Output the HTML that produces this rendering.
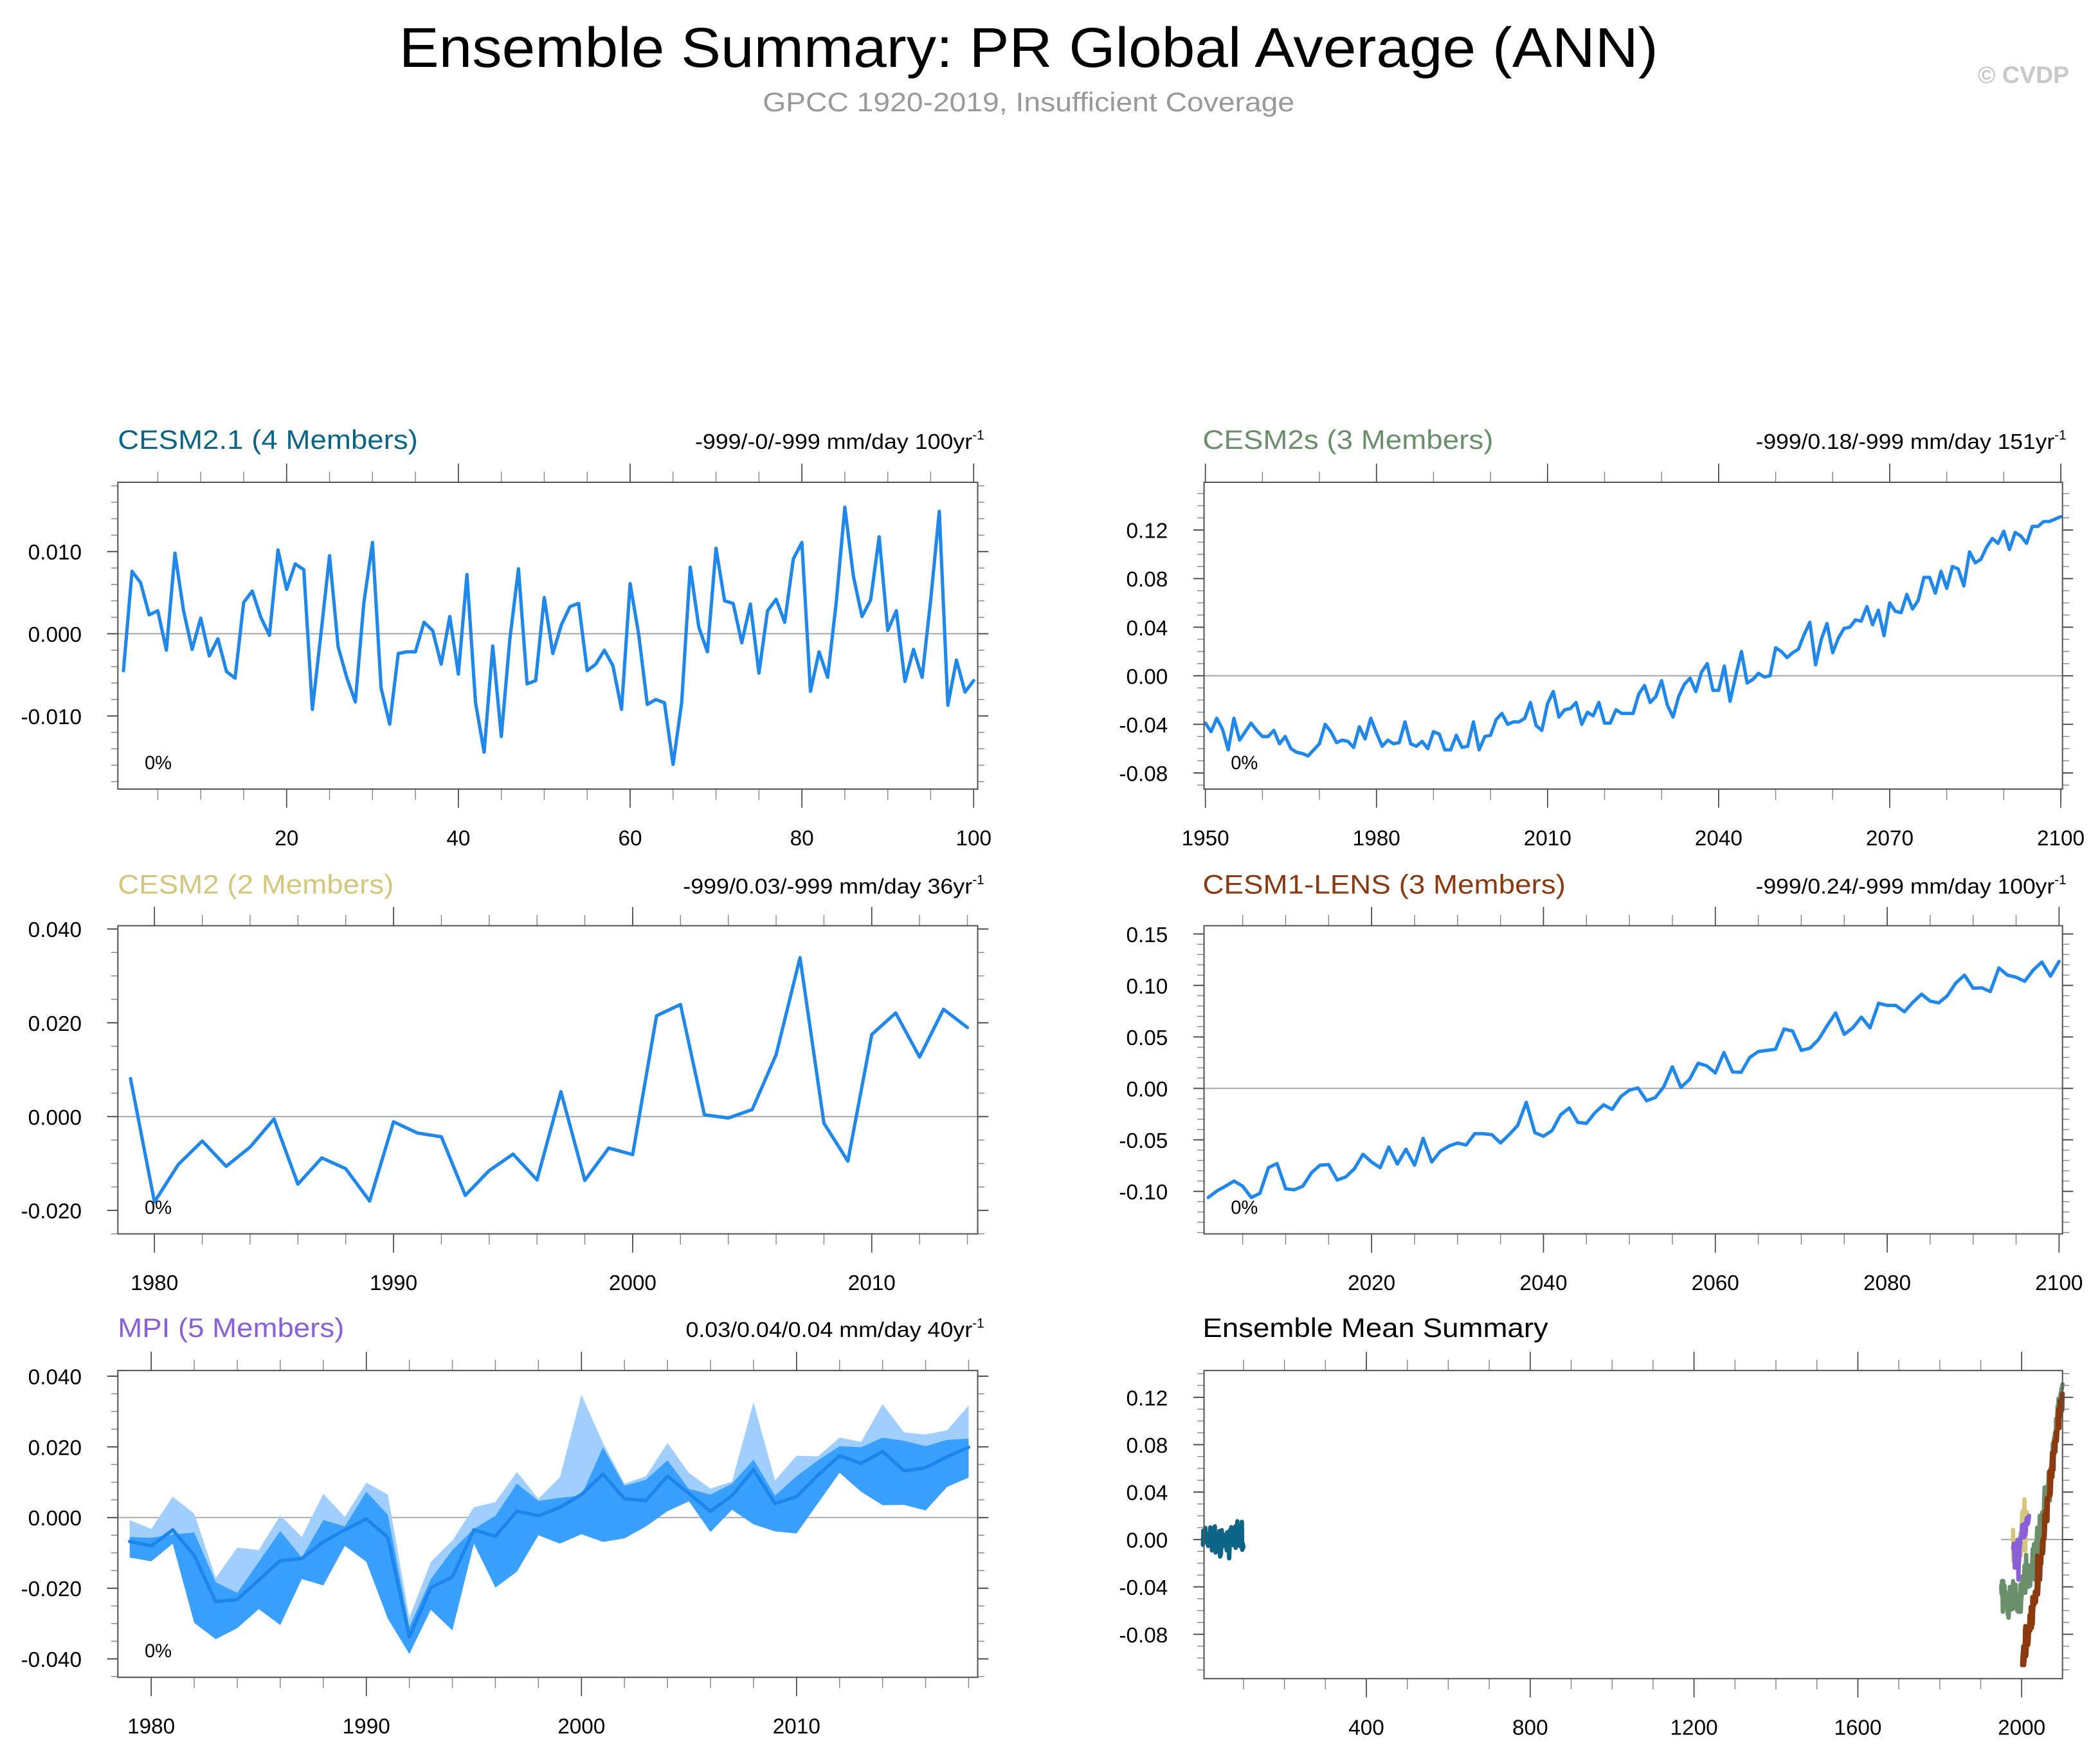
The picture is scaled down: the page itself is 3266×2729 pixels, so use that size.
<!DOCTYPE html>
<html>
<head>
<meta charset="utf-8">
<style>
html,body{margin:0;padding:0;background:#fff;}
svg{display:block;}
text{font-family:"Liberation Sans",sans-serif;}
</style>
</head>
<body>
<svg id="chart" xmlns="http://www.w3.org/2000/svg" width="3266" height="2729" viewBox="0 0 1568 1310" preserveAspectRatio="none">
  <rect x="0" y="0" width="1568" height="1310" fill="#ffffff"/>
  <text x="768" y="50" font-size="42" text-anchor="middle" textLength="940" lengthAdjust="spacingAndGlyphs" fill="#000">Ensemble Summary: PR Global Average (ANN)</text>
  <text x="768" y="83" font-size="20" text-anchor="middle" textLength="397" lengthAdjust="spacingAndGlyphs" fill="#999">GPCC 1920-2019, Insufficient Coverage</text>
  <text x="1545" y="62" font-size="18" font-weight="bold" text-anchor="end" fill="#c8c8c8">© CVDP</text>

  <text x="88" y="335" font-size="20" textLength="224" lengthAdjust="spacingAndGlyphs" fill="#0b6587">CESM2.1 (4 Members)</text>
  <text x="519" y="335" font-size="16" fill="#000"><tspan textLength="207" lengthAdjust="spacingAndGlyphs">-999/-0/-999 mm/day 100yr</tspan><tspan font-size="10" dy="-7">-1</tspan></text>

  <text x="898" y="335" font-size="20" textLength="217" lengthAdjust="spacingAndGlyphs" fill="#6b8e6b">CESM2s (3 Members)</text>
  <text x="1311" y="335" font-size="16" fill="#000"><tspan textLength="223" lengthAdjust="spacingAndGlyphs">-999/0.18/-999 mm/day 151yr</tspan><tspan font-size="10" dy="-7">-1</tspan></text>

  <text x="88" y="667" font-size="20" textLength="206" lengthAdjust="spacingAndGlyphs" fill="#d4c67a">CESM2 (2 Members)</text>
  <text x="510" y="667" font-size="16" fill="#000"><tspan textLength="216" lengthAdjust="spacingAndGlyphs">-999/0.03/-999 mm/day 36yr</tspan><tspan font-size="10" dy="-7">-1</tspan></text>

  <text x="898" y="667" font-size="20" textLength="271" lengthAdjust="spacingAndGlyphs" fill="#8b3a0f">CESM1-LENS (3 Members)</text>
  <text x="1311" y="667" font-size="16" fill="#000"><tspan textLength="223" lengthAdjust="spacingAndGlyphs">-999/0.24/-999 mm/day 100yr</tspan><tspan font-size="10" dy="-7">-1</tspan></text>

  <text x="88" y="998" font-size="20" textLength="169" lengthAdjust="spacingAndGlyphs" fill="#8a60d8">MPI (5 Members)</text>
  <text x="512" y="998" font-size="16" fill="#000"><tspan textLength="214" lengthAdjust="spacingAndGlyphs">0.03/0.04/0.04 mm/day 40yr</tspan><tspan font-size="10" dy="-7">-1</tspan></text>

  <text x="898" y="998" font-size="20" textLength="258" lengthAdjust="spacingAndGlyphs" fill="#000">Ensemble Mean Summary</text>
</svg>
<script>
// ---------------- DATA ----------------
const cesm21Years = Array.from({length:100},(_, i)=>i+1);
const cesm21Values = [-0.0045,0.0076,0.0062,0.0023,0.0028,-0.002,0.0098,0.0028,-0.0019,0.0019,
-0.0027,-0.0006,-0.0046,-0.0054,0.0038,0.0052,0.002,-0.0002,0.0102,0.0054,
0.0085,0.0078,-0.0092,0.0000,0.0095,-0.0016,-0.0053,-0.0083,0.0038,0.0111,
-0.0066,-0.011,-0.0024,-0.0022,-0.0022,0.0014,0.0004,-0.0037,0.0021,-0.0049,
0.0072,-0.0084,-0.0144,-0.0015,-0.0125,-0.0006,0.0079,-0.0061,-0.0057,0.0044,
-0.0024,0.0011,0.0033,0.0037,-0.0045,-0.0037,-0.002,-0.0039,-0.0092,0.0061,
-0.0001,-0.0086,-0.008,-0.0084,-0.0159,-0.0084,0.0081,0.0008,-0.0022,0.0104,
0.004,0.0037,-0.0011,0.0036,-0.0048,0.0028,0.0042,0.0014,0.0091,0.0111,
-0.007,-0.0022,-0.0053,0.0038,0.0154,0.007,0.0021,0.0041,0.0118,0.0004,
0.0028,-0.0058,-0.0019,-0.0053,0.0041,0.0149,-0.0087,-0.0032,-0.0071,-0.0057];

const cesm2sYears = Array.from({length:151},(_, i)=>1950+i);
const cesm2sValues = [-0.039,-0.046,-0.035,-0.044,-0.061,-0.035,-0.053,-0.046,-0.039,-0.045,
-0.050,-0.050,-0.045,-0.056,-0.050,-0.060,-0.063,-0.064,-0.066,-0.061,
-0.056,-0.040,-0.046,-0.055,-0.053,-0.054,-0.059,-0.042,-0.052,-0.035,
-0.047,-0.058,-0.053,-0.056,-0.055,-0.038,-0.056,-0.058,-0.054,-0.060,
-0.046,-0.048,-0.061,-0.061,-0.049,-0.059,-0.058,-0.038,-0.061,-0.050,
-0.049,-0.036,-0.031,-0.040,-0.038,-0.038,-0.035,-0.022,-0.041,-0.045,
-0.023,-0.013,-0.034,-0.028,-0.027,-0.022,-0.040,-0.030,-0.033,-0.022,
-0.039,-0.039,-0.028,-0.031,-0.031,-0.031,-0.015,-0.008,-0.022,-0.017,
-0.004,-0.024,-0.034,-0.017,-0.007,-0.002,-0.013,0.003,0.010,-0.012,
-0.012,0.008,-0.021,0.000,0.020,-0.006,-0.003,0.002,-0.001,0.000,
0.023,0.020,0.015,0.019,0.022,0.034,0.044,0.009,0.030,0.043,
0.019,0.031,0.039,0.040,0.046,0.045,0.057,0.042,0.054,0.033,
0.060,0.053,0.052,0.067,0.055,0.062,0.081,0.081,0.068,0.086,
0.072,0.090,0.088,0.074,0.102,0.093,0.096,0.106,0.113,0.109,
0.119,0.104,0.118,0.115,0.109,0.123,0.123,0.127,0.127,0.129,0.131];

const cesm2Years = Array.from({length:36},(_, i)=>1979+i);
const cesm2Values = [0.0081,-0.0182,-0.0102,-0.0052,-0.0106,-0.0065,-0.0005,-0.0144,-0.0088,-0.0111,
-0.018,-0.0011,-0.0035,-0.0043,-0.0168,-0.0115,-0.008,-0.0135,0.0053,-0.0136,
-0.0067,-0.0081,0.0215,0.0239,0.0004,-0.0003,0.0015,0.0132,0.0339,-0.0014,
-0.0095,0.0175,0.0221,0.0127,0.0229,0.019];

const lensYears = Array.from({length:100},(_, i)=>2001+i);
const lensValues = [-0.106,-0.0996,-0.095,-0.090,-0.095,-0.106,-0.102,-0.077,-0.073,-0.0975,
-0.0985,-0.095,-0.082,-0.0746,-0.074,-0.089,-0.086,-0.078,-0.064,-0.0715,
-0.077,-0.057,-0.0735,-0.059,-0.0746,-0.0485,-0.0715,-0.061,-0.056,-0.053,
-0.055,-0.044,-0.044,-0.045,-0.053,-0.045,-0.036,-0.0135,-0.043,-0.0465,
-0.041,-0.0256,-0.019,-0.033,-0.034,-0.0235,-0.016,-0.0204,-0.008,-0.0017,
0.0004,-0.012,-0.009,0.0015,0.021,0.001,0.0087,0.0244,0.0219,0.015,
0.0348,0.016,0.0156,0.030,0.0358,0.0369,0.038,0.0577,0.0556,0.0369,
0.039,0.0473,0.0608,0.0733,0.0525,0.0588,0.0692,0.0588,0.0827,0.0806,
0.0806,0.0744,0.0838,0.0915,0.0848,0.0831,0.090,0.1025,0.110,0.0973,
0.0977,0.094,0.117,0.110,0.108,0.104,0.115,0.1227,0.109,0.1233];

const mpiYears = Array.from({length:40},(_, i)=>1979+i);
const mpiMean = [-0.0068,-0.008,-0.0035,-0.0107,-0.0238,-0.0232,-0.0177,-0.0122,-0.0116,-0.0069,
-0.0035,-0.0004,-0.0056,-0.0338,-0.0198,-0.0168,-0.0035,-0.0053,0.0018,0.0005,
0.0029,0.0065,0.0123,0.0053,0.0048,0.0117,0.0068,0.0018,0.0062,0.0135,
0.004,0.0059,0.012,0.0175,0.0153,0.0187,0.0132,0.0141,0.0172,0.0199];
const mpiMax = [-0.0007,-0.0032,0.0059,0.0011,-0.0171,-0.0085,-0.0092,0.0006,-0.0055,0.0067,
0.0002,0.0099,0.0065,-0.0283,-0.0125,-0.0065,0.0029,0.0044,0.0129,0.0053,
0.0114,0.0347,0.0211,0.0096,0.0117,0.0211,0.0126,0.0082,0.0102,0.0326,
0.0105,0.0175,0.0173,0.0226,0.0214,0.0321,0.0241,0.0235,0.0247,0.0317];
const mpiUpper = [-0.0055,-0.0057,-0.0048,-0.0042,-0.0183,-0.0213,-0.0125,-0.0038,-0.0113,-0.0007,
-0.0025,0.0073,0.0008,-0.031,-0.0174,-0.0092,-0.0032,0.0005,0.0096,0.0047,
0.0056,0.0062,0.0199,0.009,0.0107,0.0162,0.0081,0.0065,0.0096,0.0164,
0.0062,0.0117,0.0162,0.0202,0.0199,0.0226,0.0217,0.0202,0.022,0.0223];
const mpiLower = [-0.0113,-0.0124,-0.0074,-0.0298,-0.0344,-0.0313,-0.0259,-0.0304,-0.0174,-0.0192,
-0.008,-0.0125,-0.0286,-0.0386,-0.0261,-0.0319,-0.0074,-0.0198,-0.0153,-0.005,
-0.0074,-0.0047,-0.0069,-0.0059,-0.0025,0.0018,0.0046,-0.0041,0.0022,-0.0019,
-0.0039,-0.0045,0.0041,0.0127,0.0073,0.0035,0.0036,0.002,0.0087,0.0113];

const p1XTicks = [20,40,60,80,100];
const p1YTicks = [-0.01,0,0.01];
const p1YLabels = ['-0.010','0.000','0.010'];
const p2XTicks = [1950,1980,2010,2040,2070,2100];
const p2YTicks = [-0.08,-0.04,0,0.04,0.08,0.12];
const p2YLabels = ['-0.08','-0.04','0.00','0.04','0.08','0.12'];
const p3XTicks = [1980,1990,2000,2010];
const p3YTicks = [-0.02,0,0.02,0.04];
const p3YLabels = ['-0.020','0.000','0.020','0.040'];
const p4XTicks = [2020,2040,2060,2080,2100];
const p4YTicks = [-0.10,-0.05,0,0.05,0.10,0.15];
const p4YLabels = ['-0.10','-0.05','0.00','0.05','0.10','0.15'];
const p5XTicks = [1980,1990,2000,2010];
const p5YTicks = [-0.04,-0.02,0,0.02,0.04];
const p5YLabels = ['-0.040','-0.020','0.000','0.020','0.040'];
const p6XTicks = [400,800,1200,1600,2000];
const p6YTicks = [-0.08,-0.04,0,0.04,0.08,0.12];
const p6YLabels = ['-0.08','-0.04','0.00','0.04','0.08','0.12'];

// ---------------- DRAWING ----------------
const NS = 'http://www.w3.org/2000/svg';
const svg = document.getElementById('chart');
function mk(tag, attrs, parent){
  const e = document.createElementNS(NS, tag);
  for (const k in attrs) e.setAttribute(k, attrs[k]);
  (parent || svg).appendChild(e);
  return e;
}
const LINE = '#1f88ea';

function panel(c){
  const g = mk('g', {});
  
  
  const sx = v => c.x0 + (v - c.xmin) / (c.xmax - c.xmin) * (c.x1 - c.x0);
  const sy = v => c.y1 - (v - c.ymin) / (c.ymax - c.ymin) * (c.y1 - c.y0);
  for (let v = Math.ceil(c.xmin / c.xMinor) * c.xMinor; v <= c.xmax + 1e-9; v += c.xMinor) {
    const x = sx(v);
    const t1 = mk('line', {x1:x, x2:x, y1:c.y0, y2:c.y0-8, stroke:'#888', 'stroke-width':0.7}, g);
    
    
    const t2 = mk('line', {x1:x, x2:x, y1:c.y1, y2:c.y1+8, stroke:'#888', 'stroke-width':0.7}, g);
    
    
  }
  for (let k = Math.ceil(c.ymin / c.yMinor - 1e-6); k * c.yMinor <= c.ymax + 1e-9; k++) {
    const y = sy(k * c.yMinor);
    const t1 = mk('line', {x1:c.x0, x2:c.x0-5, y1:y, y2:y, stroke:'#888', 'stroke-width':0.7}, g);
    
    
    const t2 = mk('line', {x1:c.x1, x2:c.x1+5, y1:y, y2:y, stroke:'#888', 'stroke-width':0.7}, g);
    
    
  }
  c.xTicks.forEach(v => {
    const x = sx(v);
    const t1 = mk('line', {x1:x, x2:x, y1:c.y0, y2:c.y0-14, stroke:'#444', 'stroke-width':0.8}, g);
    
    
    const t2 = mk('line', {x1:x, x2:x, y1:c.y1, y2:c.y1+14, stroke:'#444', 'stroke-width':0.8}, g);
    
    
    const lb = mk('text', {x:x, y:c.y1+42, 'font-size':16, 'text-anchor':'middle', fill:'#000'}, g);
    lb.textContent = String(v);
    
    
  });
  c.yTicks.forEach((v, i) => {
    const y = sy(v);
    const t1 = mk('line', {x1:c.x0, x2:c.x0-8, y1:y, y2:y, stroke:'#444', 'stroke-width':0.9}, g);
    
    
    const t2 = mk('line', {x1:c.x1, x2:c.x1+8, y1:y, y2:y, stroke:'#444', 'stroke-width':0.9}, g);
    
    
    const lb = mk('text', {x:c.x0-27, y:y+6, 'font-size':16, 'text-anchor':'end', fill:'#000'}, g);
    lb.textContent = c.yLabels[i];
    
    
  });
  const zx0 = c.zeroFrom !== undefined ? sx(c.zeroFrom) : c.x0;
  const zl = mk('line', {x1:zx0, x2:c.x1, y1:sy(0), y2:sy(0), stroke:'#aaa', 'stroke-width':1}, g);
  
  
  const plot = mk('g', {}, g);
  
  
  c.draw(plot, sx, sy);
  const box = mk('rect', {x:c.x0, y:c.y0, width:c.x1-c.x0, height:c.y1-c.y0, fill:'none', stroke:'#555', 'stroke-width':1}, g);
  
  
  if (c.pct) {
    const p = mk('text', {x:c.x0+20, y:c.y1-15, 'font-size':14, fill:'#000'}, g);
    p.textContent = '0%';
    
    
  }
}
function pts(xs, ys, sx, sy){ return xs.map((x, i) => sx(x).toFixed(2) + ',' + sy(ys[i]).toFixed(2)).join(' '); }
function seriesLine(parent, xs, ys, sx, sy, color, w, name){
  const l = mk('polyline', {points:pts(xs, ys, sx, sy), fill:'none', stroke:color, 'stroke-width':w, 'stroke-linejoin':'round', 'stroke-linecap':'round'}, parent);
  
  
}
function band(parent, xs, up, lo, sx, sy, color, name){
  const top = xs.map((x, i) => sx(x).toFixed(2) + ',' + sy(up[i]).toFixed(2));
  const bot = xs.map((x, i) => sx(x).toFixed(2) + ',' + sy(lo[i]).toFixed(2)).reverse();
  const p = mk('polygon', {points:top.concat(bot).join(' '), fill:color, stroke:'none'}, parent);
  
  
}

panel({name:'cesm21-panel', x0:88, x1:730, y0:360, y1:589, xmin:0.35, xmax:100.47, ymin:-0.0189, ymax:0.01843,
  xTicks:p1XTicks, xMinor:5, yTicks:p1YTicks, yLabels:p1YLabels, yMinor:0.002, pct:true,
  draw:(g, sx, sy) => seriesLine(g, cesm21Years, cesm21Values, sx, sy, LINE, 2.5, 'cesm21-line')});
panel({name:'cesm2s-panel', x0:899, x1:1540, y0:360, y1:589, xmin:1949.76, xmax:2100.3, ymin:-0.0933, ymax:0.1593,
  xTicks:p2XTicks, xMinor:10, yTicks:p2YTicks, yLabels:p2YLabels, yMinor:0.01, pct:true,
  draw:(g, sx, sy) => seriesLine(g, cesm2sYears, cesm2sValues, sx, sy, LINE, 2.5, 'cesm2s-line')});
panel({name:'cesm2-panel', x0:88, x1:730, y0:691, y1:921, xmin:1978.47, xmax:2014.43, ymin:-0.0250, ymax:0.0407,
  xTicks:p3XTicks, xMinor:2, yTicks:p3YTicks, yLabels:p3YLabels, yMinor:0.005, pct:true,
  draw:(g, sx, sy) => seriesLine(g, cesm2Years, cesm2Values, sx, sy, LINE, 2.5, 'cesm2-line')});
panel({name:'cesm1-lens-panel', x0:899, x1:1540, y0:691, y1:921, xmin:2000.5, xmax:2100.4, ymin:-0.1413, ymax:0.158,
  xTicks:p4XTicks, xMinor:5, yTicks:p4YTicks, yLabels:p4YLabels, yMinor:0.01, pct:true,
  draw:(g, sx, sy) => seriesLine(g, lensYears, lensValues, sx, sy, LINE, 2.5, 'cesm1-lens-line')});
panel({name:'mpi-panel', x0:88, x1:730, y0:1023, y1:1252, xmin:1978.45, xmax:2018.42, ymin:-0.0452, ymax:0.0416,
  xTicks:p5XTicks, xMinor:2, yTicks:p5YTicks, yLabels:p5YLabels, yMinor:0.005, pct:true,
  draw:(g, sx, sy) => {
    band(g, mpiYears, mpiMax, mpiLower, sx, sy, '#a0cfff', 'mpi-range-band');
    band(g, mpiYears, mpiUpper, mpiLower, sx, sy, '#3aa0ff', 'mpi-spread-band');
    seriesLine(g, mpiYears, mpiMean, sx, sy, '#1c86ec', 2.6, 'mpi-mean-line');
  }});
panel({name:'ensemble-mean-summary-panel', x0:899, x1:1540, y0:1023, y1:1253, xmin:3.6, xmax:2099.7, ymin:-0.1174, ymax:0.1426,
  xTicks:p6XTicks, xMinor:100, yTicks:p6YTicks, yLabels:p6YLabels, yMinor:0.01, pct:false, zeroFrom:1950,
  draw:(g, sx, sy) => {
    seriesLine(g, cesm21Years, cesm21Values, sx, sy, '#0b6587', 3.2, 'summary-cesm21-line');
    seriesLine(g, cesm2sYears, cesm2sValues, sx, sy, '#6b8e6b', 3.2, 'summary-cesm2s-line');
    seriesLine(g, cesm2Years, cesm2Values, sx, sy, '#d4c67a', 3.2, 'summary-cesm2-line');
    seriesLine(g, mpiYears, mpiMean, sx, sy, '#8a60d8', 3.2, 'summary-mpi-line');
    seriesLine(g, lensYears, lensValues, sx, sy, '#8b3a0f', 3.2, 'summary-cesm1-lens-line');
  }});
</script>
</body>
</html>
